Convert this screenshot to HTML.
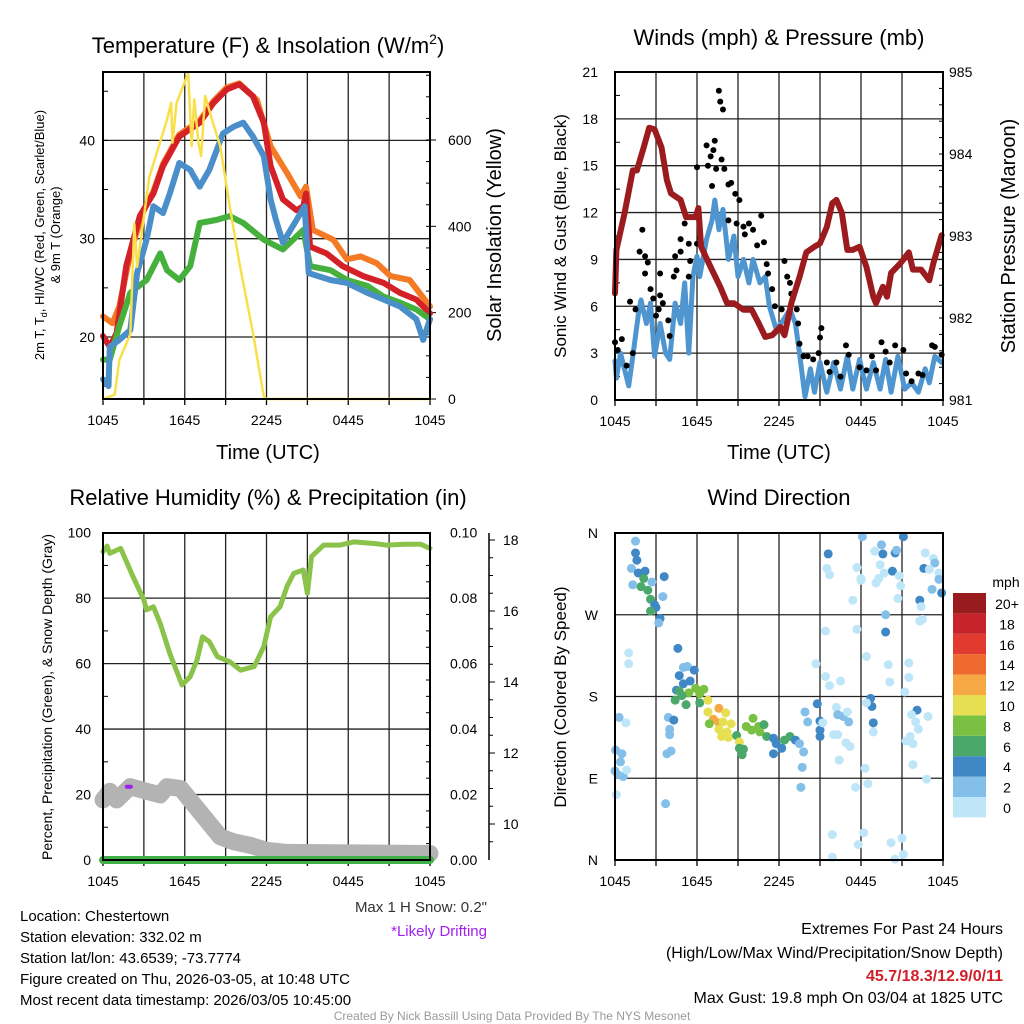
<!DOCTYPE html>
<html><head><meta charset="utf-8"><style>
html,body{margin:0;padding:0;background:#fff;}
svg{display:block;font-family:"Liberation Sans",Arial,sans-serif;}
</style></head><body>
<svg id="c" width="1024" height="1024" viewBox="0 0 1024 1024" xmlns="http://www.w3.org/2000/svg">
<rect width="1024" height="1024" fill="#fff"/>
<g id="g1"></g>
<g id="g2"></g>
<g id="g3"></g>
<g id="g4"></g>
<text x="268" y="53" font-size="22" text-anchor="middle">Temperature (F) &amp; Insolation (W/m<tspan font-size="14" dy="-9">2</tspan><tspan dy="9">)</tspan></text>
<text x="779" y="45" font-size="22" text-anchor="middle">Winds (mph) &amp; Pressure (mb)</text>
<text x="268" y="505" font-size="22" text-anchor="middle">Relative Humidity (%) &amp; Precipitation (in)</text>
<text x="779" y="505" font-size="22" text-anchor="middle">Wind Direction</text>
<g font-size="15">
<text x="20" y="921">Location: Chestertown</text>
<text x="20" y="942">Station elevation: 332.02 m</text>
<text x="20" y="963">Station lat/lon: 43.6539; -73.7774</text>
<text x="20" y="984">Figure created on Thu, 2026-03-05, at 10:48 UTC</text>
<text x="20" y="1005">Most recent data timestamp: 2026/03/05 10:45:00</text>
</g>
<text x="487" y="912" font-size="15" text-anchor="end" fill="#333">Max 1 H Snow: 0.2"</text>
<text x="487" y="936" font-size="15" text-anchor="end" fill="#a020f0">*Likely Drifting</text>
<g font-size="16" text-anchor="end">
<text x="1003" y="934">Extremes For Past 24 Hours</text>
<text x="1003" y="958">(High/Low/Max Wind/Precipitation/Snow Depth)</text>
<text x="1003" y="981" fill="#d0202a" font-weight="bold">45.7/18.3/12.9/0/11</text>
<text x="1003" y="1003">Max Gust: 19.8 mph On 03/04 at 1825 UTC</text>
</g>
<text x="512" y="1020" font-size="12" text-anchor="middle" fill="#999">Created By Nick Bassill Using Data Provided By The NYS Mesonet</text>
</svg>
<script>
// ---------- Panel 1 data ----------
const redH=[0,0.5,1.0,1.7,2.7,3.7,4.4,5.6,7.1,8.1,9.1,10.0,11.0,11.8,12.3,13.2,14.2,14.7,14.9,15.2,16.4,17.6,19.1,20.6,21.8,23.0,24];
const redT=[20.1,19,20.4,27.2,32.3,34.6,37.4,40.4,41.8,43.8,45.2,45.7,44.5,41.8,37.4,34,32.9,33.3,34.6,29.2,28.5,27.2,26.2,25.5,24.5,23.8,22.4];
const orgH=[0,0.7,1.2,2.0,2.9,3.7,4.4,5.6,7.1,8.1,9.1,10.0,11.3,12.3,13.5,14.5,14.9,15.4,16.9,17.9,18.9,20.1,21.1,22.5,24];
const orgT=[22.1,21.4,23.1,28.5,32.6,34.8,37.6,40.6,42.0,44.0,45.4,45.8,44.1,39.4,36.7,34.3,35.3,30.9,29.9,27.9,28.2,27.5,26.2,25.8,23.1];
const bluH=[0,0.4,0.5,1.2,2.0,2.5,3.2,3.7,4.4,4.9,5.6,6.4,7.1,7.8,8.8,9.6,10.3,11.0,11.8,12.3,12.7,13.2,14.2,14.8,15.1,16.7,17.9,19.4,20.6,21.8,23.0,23.5,24];
const bluT=[15.7,15,19,19.7,20.7,26.5,29.9,33.3,32.6,34.6,37.7,37,35.3,37,40.7,41.4,41.8,40.4,38.4,34,31.9,29.6,31.9,33.3,26.5,25.8,25.5,24.5,23.8,23.1,21.8,19.7,21.8];
const grnH=[0,0.5,1.2,2.0,3.2,4.2,4.7,5.6,6.4,7.1,8.3,9.3,10.3,11.8,13.2,14.7,15.2,16.7,17.9,19.4,20.6,21.8,23.0,24];
const grnT=[17.7,17.7,21.1,24.5,25.8,28.5,26.8,25.8,27.2,31.6,31.9,32.3,31.6,29.9,28.9,30.9,27.2,26.8,25.8,25.2,24.1,23.5,22.8,21.8];
const solH=[0,0.86,1.2,2.0,2.3,2.5,3.4,4.7,5.0,5.1,5.4,6.25,6.5,6.7,7.0,7.2,7.5,8.0,8.6,9.3,10.0,11.0,11.8,12.0,24];
const solW=[0,10,90,150,406,306,514,647,686,594,686,755,586,694,594,563,702,647,586,447,316,154,6,0,0];
const p1Left=[20,30,40], p1Right=[0,200,400,600];
const xTickLabels=["1045","1645","2245","0445","1045"];
// ---------- Panel 2 data ----------
const presH=[0,0.1,0.7,1.3,1.6,2.1,2.5,2.9,3.4,3.8,4.1,4.8,5.2,5.9,6.1,6.3,7.0,7.7,8.2,8.7,9.4,10,10.5,11.0,11.5,12.1,12.4,12.9,13.5,14.0,14.6,15.0,15.5,15.9,16.2,16.6,17.0,17.4,17.9,18.4,18.9,19.1,19.6,19.9,20.2,20.9,21.5,21.8,22.4,23.0,23.3,23.9];
const presV=[982.30,982.83,983.28,983.80,983.80,984.08,984.32,984.30,984.08,983.68,983.52,983.44,983.23,983.23,983.34,982.87,982.62,982.38,982.18,982.18,982.10,982.10,981.94,981.77,981.79,981.89,981.79,982.18,982.50,982.80,982.87,982.91,983.11,983.40,983.44,983.28,982.83,982.83,982.87,982.62,982.26,982.18,982.38,982.26,982.55,982.67,982.80,982.59,982.59,982.46,982.67,983.01];
const windH=[0,0.1,0.4,1.0,1.3,1.7,1.9,2.3,2.6,2.9,3.3,3.7,4.0,4.4,4.8,5.1,5.4,5.7,6.0,6.2,6.7,7.1,7.3,7.6,7.9,8.3,8.7,9.0,9.4,9.8,10.1,10.6,11.0,11.3,11.8,12.3,12.8,13.2,13.5,13.9,14.3,14.6,15.0,15.5,16.0,16.5,17.0,17.4,17.9,18.4,18.9,19.4,19.8,20.2,20.7,21.2,21.7,22.2,22.7,23.0,23.4,23.9];
const windV=[2.5,1.4,3.0,0.9,2.8,5.4,6.4,4.9,6.2,2.8,4.9,3.0,2.6,6.2,4.9,7.5,3.0,7.9,9.2,7.9,10.3,11.5,12.8,10.9,12.2,9.0,10.5,7.9,9.0,7.5,9.0,7.5,7.9,6.0,4.5,5.1,5.8,4.9,3.0,0.2,2.0,0.5,2.4,0.5,2.4,0.7,2.8,0.7,2.6,0.7,2.4,0.7,2.6,0.5,2.8,0.7,1.1,0.5,2.0,1.1,2.8,2.4];
const gustH=[0,0.2,0.5,0.85,1.1,1.3,1.5,1.8,2.0,2.2,2.4,2.2,2.6,2.8,3.0,3.2,3.3,3.3,3.5,3.9,4.0,4.3,4.5,4.8,4.8,4.4,5.1,5.4,5.4,5.5,6.0,6.0,6.2,6.7,6.8,7.0,7.1,7.2,7.3,7.4,7.6,7.7,7.9,7.8,8.0,8.3,8.5,8.8,9.1,8.3,8.9,9.4,9.8,9.5,10.1,10.4,10.7,10.9,11.1,11.2,11.5,11.7,12.2,12.4,12.6,12.8,12.9,13.3,13.4,13.5,13.8,14.1,14.5,14.9,15.0,15.1,15.5,15.7,16.2,16.5,16.9,17.1,17.9,18.4,18.8,19.1,19.5,19.8,20.1,20.5,21.1,21.3,21.7,22.2,22.5,23.2,23.4,23.9];
const gustV=[3.7,3.2,3.9,2.2,6.3,3.0,5.8,9.5,10.9,9.2,8.8,8.1,7.1,6.5,5.4,5.8,8.1,6.7,6.2,5.1,4.1,7.9,8.3,10.3,9.5,9.2,11.3,10.0,7.9,8.9,14.9,10.0,10.4,16.3,15.0,15.6,13.7,16.0,16.6,14.8,19.8,19.1,18.6,15.4,14.8,13.8,13.9,13.2,12.8,11.5,11.3,11.1,11.3,10.6,10.9,9.9,11.8,10.1,8.7,8.1,7.1,6.0,5.8,8.9,7.9,7.5,6.8,5.8,4.9,3.6,2.8,2.8,2.6,3.0,4.0,4.6,2.4,1.8,2.4,1.5,3.5,2.9,2.1,1.9,2.8,1.9,3.7,3.1,2.4,3.5,3.2,1.7,1.2,1.7,1.6,3.5,3.4,2.9];
const p2Left=[0,3,6,9,12,15,18,21], p2Right=[981,982,983,984,985];
// ---------- Panel 3 data ----------
const rhH=[0,0.3,0.5,1.3,2.2,3.0,3.2,3.7,4.2,4.9,5.8,6.4,6.9,7.3,7.8,8.4,9.3,10.1,11.1,11.8,12.3,13.0,13.5,14.0,14.7,15.0,15.3,16.2,17.4,18.4,19.9,20.8,22.1,23.3,24];
const rhV=[94.2,95.9,93.7,95.2,86.6,79.4,76.4,77.4,72.3,63.1,53.5,56.0,61.1,68.2,66.7,62.1,60.6,58.0,59.1,65.2,74.3,77.4,83.5,87.6,88.6,81.5,92.7,96.2,96.2,97.2,96.7,96.2,96.5,96.5,95.2];
const snowH=[0,0.5,1.0,2.0,3.2,4.2,4.7,5.7,6.6,7.6,8.6,9.6,10.8,12.0,13.5,24];
const snowV=[10.68,10.92,10.68,11.05,10.92,10.82,11.05,11.0,10.58,10.11,9.64,9.5,9.4,9.26,9.2,9.17];
const precH=[0,24], precV=[0,0];
const p3Left=[0,20,40,60,80,100], p3Right=[0,0.02,0.04,0.06,0.08,0.10], p3Snow=[10,12,14,16,18];
// ---------- Panel 4 data ----------
const dirH=[1.5,1.5,1.6,1.2,1.7,2.2,2.1,1.9,2.4,2.6,1.3,2.7,3.6,3.5,2.9,3.0,2.6,3.3,3.2,1.0,1.0,4.6,5.0,5.3,5.8,4.7,5.5,5.0,4.5,4.7,5.4,5.9,6.5,6.2,4.9,4.4,5.2,6.2,6.8,7.6,6.8,8.1,7.2,7.6,6.9,7.9,8.5,7.6,8.2,7.8,8.3,8.9,9.1,9.1,9.4,9.3,10.1,9.6,10.0,10.5,10.9,10.6,11.1,11.6,11.8,12.2,11.6,12.4,12.8,13.2,13.5,13.8,13.7,13.6,13.9,14.1,14.8,15.0,15.0,15.0,15.2,0.05,0.5,0.4,0.2,0.6,0,0.1,0.3,0.8,0.85,3.9,4.3,4.0,4.0,4.1,3.8,3.7,14.7,15.4,15.7,16.5,15.4,15.6,15.5,15.7,16.2,16.3,16.7,17.1,17.0,16.0,16.3,16.9,17.2,16.4,18.1,17.7,18.0,18.0,17.4,17.7,18.4,18.3,18.5,17.6,15.9,15.9,17.8,18.2,18.7,18.8,18.4,18.9,18.9,19.5,19.6,19.0,19.4,19.7,19.3,19.1,19.8,19.8,20.0,20.1,20.2,20.5,21.1,20.5,20.6,20.3,20.8,20.9,20.7,21.5,21.5,21.2,22.1,21.7,22.0,22.2,21.6,21.3,21.8,21.8,22.8,22.9,21.0,21.1,22.7,23.3,23.4,22.6,23.0,23.7,23.7,23.2,23.9,22.3,22.4,22.3,22.5];
const dirV=[351,338,330,321,316,318,310,301,297,287,303,306,312,290,281,278,274,266,261,228,216,233,212,213,209,203,197,194,187,186,184,189,188,183,181,176,171,173,176,167,163,162,155,151,150,152,150,144,141,136,135,137,130,123,122,116,156,147,143,147,149,141,136,134,128,123,117,132,136,132,128,119,102,80,163,152,172,153,143,136,151,121,117,108,94,92,98,72,157,151,99,157,154,144,138,120,117,62,216,202,192,197,252,337,321,314,168,160,158,152,163,138,138,129,125,110,356,322,310,308,286,254,224,101,84,80,28,3,17,30,178,169,173,151,141,347,337,340,325,316,310,305,270,251,215,196,19,1,356,338,341,318,313,302,288,217,201,185,165,160,152,144,136,131,128,105,89,158,24,6,338,332,327,321,320,316,309,298,294,286,279,263,265];
const dirS=[2.5,4.5,4.5,2.5,4.5,4.5,6.5,6.5,6.5,6.5,2.5,2.5,4.5,2.5,4.5,4.5,6.5,4.5,2.5,1,1,4.5,2.5,2.5,4.5,4.5,4.5,4.5,4.5,6.5,8.5,8.5,8.5,8.5,6.5,6.5,6.5,6.5,10.5,12.5,10.5,10.5,12.5,12.5,8.5,10.5,10.5,10.5,10.5,10.5,10.5,6.5,10.5,6.5,6.5,6.5,8.5,8.5,8.5,8.5,6.5,8.5,6.5,4.5,4.5,4.5,4.5,6.5,6.5,4.5,2.5,2.5,2.5,2.5,2.5,2.5,4.5,4.5,4.5,4.5,1,2.5,2.5,2.5,2.5,2.5,2.5,1,2.5,1,1,2.5,4.5,2.5,2.5,2.5,2.5,2.5,1,1,1,1,1,4.5,1,1,1,2.5,2.5,2.5,1,1,1,1,1,1,2.5,1,1,1,1,1,1,1,1,1,1,1,1,1,4.5,4.5,1,4.5,1,2.5,4.5,1,1,1,1,1,2.5,4.5,1,1,1,1,4.5,4.5,2.5,4.5,1,1,1,1,1,1,4.5,1,1,1,1,1,1,1,1,1,1,1,1,1,2.5,4.5,1,1,2.5,2.5,4.5,4.5,1,1,1,1];
const speedColors=["#bfe6f8","#83bfe8","#3f88c5","#4aa86b","#7ac143","#e6df52","#f6a844","#ef6a2e","#e03b2e","#c6232a","#981c1e"];
const speedLabels=["0","2","4","6","8","10","12","14","16","18","20+"];
const dirTicks=[0,90,180,270,360], dirLabels=["N","E","S","W","N"];

const NS="http://www.w3.org/2000/svg";
function mk(parent,tag,attrs,txt){const e=document.createElementNS(NS,tag);for(const k in attrs)e.setAttribute(k,attrs[k]);if(txt!==undefined)e.textContent=txt;parent.appendChild(e);return e;}
function poly(g,hs,vs,X,Y,color,w,name){const pts=hs.map((h,i)=>X(h).toFixed(1)+","+Y(vs[i]).toFixed(1)).join(" ");const e=mk(g,"polyline",{points:pts,fill:"none",stroke:color,"stroke-width":w,"stroke-linejoin":"round","stroke-linecap":"round"});


return e;}
function frame(g,x0,x1,y0,y1,X){
  for(let h=3;h<24;h+=3){const e=mk(g,"line",{x1:X(h),x2:X(h),y1:y0,y2:y1,stroke:"#222","stroke-width":1.3});
  
  }
  xTickLabels.forEach((t,i)=>{const e=mk(g,"text",{x:X(i*6),y:y1+26,"font-size":14,"text-anchor":"middle"},t);
  
  
  for(let k=0;k<24;k++){}});
  for(let h=0;h<=24;h+=3){mk(g,"line",{x1:X(h),x2:X(h),y1:y1,y2:y1+6,stroke:"#000","stroke-width":1.3});}
}
function hline(g,x0,x1,y,name){const e=mk(g,"line",{x1:x0,x2:x1,y1:y,y2:y,stroke:"#222","stroke-width":1.3});

}
function box(g,x0,x1,y0,y1){const e=mk(g,"rect",{x:x0,y:y0,width:x1-x0,height:y1-y0,fill:"none",stroke:"#000","stroke-width":2});

}
function label(g,x,y,txt,anchor,size,name,rot){const a={x:x,y:y,"font-size":size,"text-anchor":anchor};if(rot)a.transform="rotate(-90 "+x+" "+y+")";const e=mk(g,"text",a,txt);

return e;}

// ---------- Panel 1 ----------
(function(){const g=document.getElementById("g1");
const x0=103,x1=430,y0=72,y1=399;
const X=h=>x0+h*(x1-x0)/24, Y=t=>337-(t-20)*9.83, YI=w=>399-w*0.4317;
frame(g,x0,x1,y0,y1,X);
p1Left.forEach(v=>{hline(g,x0,x1,Y(v),'horizontal-gridline');label(g,x0-8,Y(v)+5,String(v),"end",14,'y-tick-label');});
for(let v=15;v<=45;v+=5){mk(g,"line",{x1:x0,x2:x0+5,y1:Y(v),y2:Y(v),stroke:"#000"});}
p1Right.forEach(v=>{label(g,x1+18,YI(v)+5,String(v),"start",14,'y2-tick-label');mk(g,"line",{x1:x1,x2:x1+6,y1:YI(v),y2:YI(v),stroke:"#000"});});
for(let v=50;v<=750;v+=50){mk(g,"line",{x1:x1-4,x2:x1,y1:YI(v),y2:YI(v),stroke:"#000"});}
poly(g,orgH,orgT,X,Y,"#f47a25",6,'series-9m-temp-orange');
poly(g,redH,redT,X,Y,"#d42027",6,'series-2m-temp-red');
poly(g,grnH,grnT,X,Y,"#45b13c",6,'series-dewpoint-green');
poly(g,bluH,bluT,X,Y,"#4a8fc9",6,'series-windchill-blue');
poly(g,solH,solW,X,YI,"#f9e04b",2.5,'series-insolation-yellow');
box(g,x0,x1,y0,y1);
label(g,268,459,"Time (UTC)","middle",20,'x-axis-title');
label(g,44,235,"2m T, T\u2091, HI/WC (Red, Green, Scarlet/Blue)","middle",13,'y-axis-title',true).innerHTML='2m T, T<tspan font-size="9" dy="3">d</tspan><tspan dy="-3">, HI/WC (Red, Green, Scarlet/Blue)</tspan>';
label(g,60,235,"& 9m T (Orange)","middle",13,'y-axis-title-line2',true);
label(g,501,235,"Solar Insolation (Yellow)","middle",20,'y2-axis-title',true);
})();

// ---------- Panel 2 ----------
(function(){const g=document.getElementById("g2");
const x0=615,x1=943,y0=72,y1=400;
const X=h=>x0+h*(x1-x0)/24, YW=s=>400-s*15.62, YP=p=>400-(p-981)*82;
frame(g,x0,x1,y0,y1,X);
p2Left.forEach(v=>{hline(g,x0,x1,YW(v),'horizontal-gridline');label(g,x0-17,YW(v)+5,String(v),"end",14,'y-tick-label');});
for(let v=1.5;v<21;v+=3){mk(g,"line",{x1:x0,x2:x0+5,y1:YW(v),y2:YW(v),stroke:"#000"});}
p2Right.forEach(v=>{label(g,x1+6,YP(v)+5,String(v),"start",14,'y2-tick-label');});
for(let v=981.2;v<985;v+=0.2){mk(g,"line",{x1:x1-4,x2:x1,y1:YP(v),y2:YP(v),stroke:"#000"});}
poly(g,windH,windV,X,YW,"#4f96d0",5,'series-sonic-wind-blue');
gustH.forEach((h,i)=>{const c=mk(g,"circle",{cx:X(h),cy:YW(gustV[i]),r:3,fill:"#000"});

});
poly(g,presH,presV,X,YP,"#9b1b1e",6,'series-pressure-maroon');
box(g,x0,x1,y0,y1);
label(g,779,459,"Time (UTC)","middle",20,'x-axis-title');
label(g,566,236,"Sonic Wind & Gust (Blue, Black)","middle",17,'y-axis-title',true);
label(g,1015,236,"Station Pressure (Maroon)","middle",20,'y2-axis-title',true);
})();

// ---------- Panel 3 ----------
(function(){const g=document.getElementById("g3");
const x0=103,x1=430,y0=533,y1=860;
const X=h=>x0+h*(x1-x0)/24, YR=r=>860-r*3.273, YS=s=>824-(s-10)*35.5, YPr=p=>860-p*3273;
frame(g,x0,x1,y0,y1,X);
p3Left.forEach(v=>{if(v>0&&v<100)hline(g,x0,x1,YR(v),'horizontal-gridline');label(g,x0-12,YR(v)+5,String(v),"end",14,'y-tick-label');});
for(let v=10;v<100;v+=20){mk(g,"line",{x1:x0,x2:x0+5,y1:YR(v),y2:YR(v),stroke:"#000"});}
p3Right.forEach(v=>{label(g,x1+20,YPr(v)+5,v.toFixed(2),"start",14,'precip-tick-label');});
for(let v=0.005;v<0.1;v+=0.005){mk(g,"line",{x1:x1-4,x2:x1,y1:YPr(v),y2:YPr(v),stroke:"#000"});}
const e=mk(g,"line",{x1:489,x2:489,y1:533,y2:860,stroke:"#000","stroke-width":1.5});


p3Snow.forEach(v=>{mk(g,"line",{x1:489,x2:495,y1:YS(v),y2:YS(v),stroke:"#000"});label(g,503,YS(v)+5,String(v),"start",14,'snow-tick-label');});
for(let v=9.5;v<18.2;v+=0.5){if(v%2)mk(g,"line",{x1:489,x2:493,y1:YS(v),y2:YS(v),stroke:"#000"});}
poly(g,snowH,snowV,X,YS,"#b3b3b3",17,'series-snow-depth-gray');
poly(g,precH,precV,X,YPr,"#3fb04a",8,'series-precip-green');
poly(g,rhH,rhV,X,YR,"#8bc34a",5,'series-rh-green');
const d=mk(g,"rect",{x:X(1.6),y:YS(11.05)-2,width:8,height:4,fill:"#a020f0",rx:2});


box(g,x0,x1,y0,y1);
label(g,52,697,"Percent, Precipitation (Green), & Snow Depth (Gray)","middle",14,'y-axis-title',true);
})();

// ---------- Panel 4 ----------
(function(){const g=document.getElementById("g4");
const x0=615,x1=943,y0=533,y1=860;
const X=h=>x0+h*(x1-x0)/24, YD=d=>860-d*(y1-y0)/360;
frame(g,x0,x1,y0,y1,X);
dirTicks.forEach((v,i)=>{if(v>0&&v<360)hline(g,x0,x1,YD(v),'horizontal-gridline');label(g,x0-17,YD(v)+5,dirLabels[i],"end",14,'y-tick-label');});
dirH.forEach((h,i)=>{const ci=Math.min(10,Math.floor(dirS[i]/2));const c=mk(g,"circle",{cx:X(h),cy:YD(dirV[i]),r:4.5,fill:speedColors[ci]});

});
box(g,x0,x1,y0,y1);
label(g,566,697,"Direction (Colored By Speed)","middle",17,'y-axis-title',true);
label(g,1006,587,"mph","middle",14,'colorbar-title');
for(let i=0;i<11;i++){const yy=593+(10-i)*20.4;const r=mk(g,"rect",{x:953,y:yy,width:33,height:20.4,fill:speedColors[i]});


label(g,1007,yy+16,speedLabels[i],"middle",14,'colorbar-label');}
})();
</script>
</body></html>
